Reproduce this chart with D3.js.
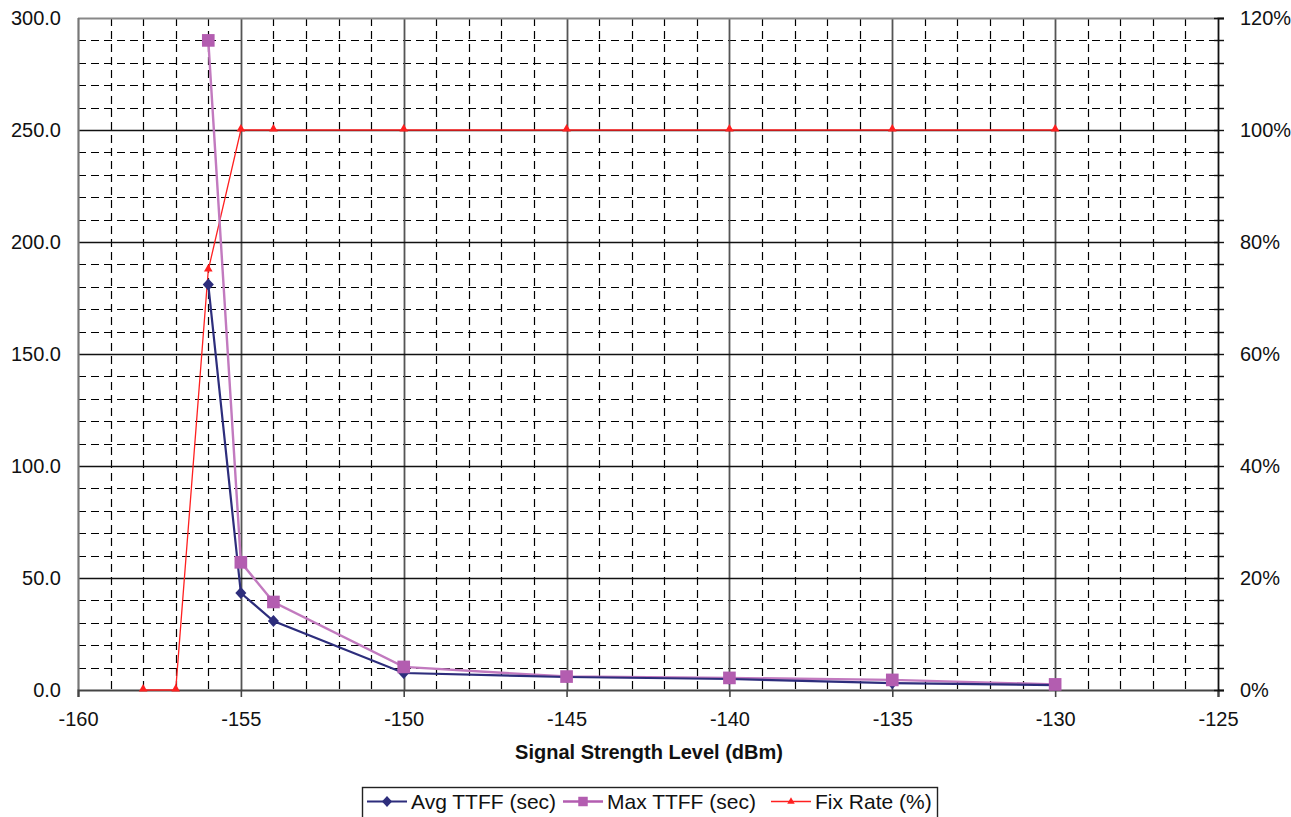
<!DOCTYPE html>
<html>
<head>
<meta charset="utf-8">
<script src="https://cdn.jsdelivr.net/npm/d3@7"></script>
<style>
  body { margin: 0; background: #fff; overflow: hidden; }
  svg { display: block; font-family: "Liberation Sans", Arial, sans-serif; }
</style>
</head>
<body>
<div id="chart"></div>
<script>
// signal level (dBm) for each measurement
var levels = [-158, -157, -156, -155, -154, -150, -145, -140, -135, -130];
// TTFF values (sec), null where no fix
var avgTTFF = [null, null, 181, 43.3, 30.8, 7.6, 5.8, 4.9, 3.1, 2.2];
var maxTTFF = [null, null, 290, 57, 39.3, 10.3, 6, 5.4, 4.5, 2.5];
// fix rate in percent
var fixRate = [0, 0, 75, 100, 100, 100, 100, 100, 100, 100];

var xTicks = [-160, -155, -150, -145, -140, -135, -130, -125];
var yTicks = [0, 50, 100, 150, 200, 250, 300];
var pctTicks = [0, 20, 40, 60, 80, 100, 120];
var seriesNames = ["Avg TTFF (sec)", "Max TTFF (sec)", "Fix Rate (%)"];

(function () {
    var W = 1291, H = 817;
    var pl = 78, pr = 1218, pt = 18, pb = 690;

    var svg = d3.select("#chart").append("svg").attr("width", W).attr("height", H);

    var x = d3.scaleLinear().domain([-160, -125]).range([pl, pr]);
    var y = d3.scaleLinear().domain([0, 300]).range([pb, pt]);
    var y2 = d3.scaleLinear().domain([0, 120]).range([pb, pt]);

    function px(v) { return Math.round(v) + 0.5; }

    // minor grid, dashed
    var minorX = d3.range(-159, -125, 1).filter(v => v % 5 !== 0);
    var minorY = d3.range(10, 300, 10).filter(v => v % 50 !== 0);

    var grid = svg.append("g");
    grid.selectAll(".mx").data(minorX).enter().append("line")
        .attr("x1", d => px(x(d))).attr("x2", d => px(x(d)))
        .attr("y1", pt).attr("y2", pb)
        .attr("stroke", "#000").attr("stroke-width", 1.2).attr("stroke-dasharray", "8,5");
    grid.selectAll(".my").data(minorY).enter().append("line")
        .attr("y1", d => px(y(d))).attr("y2", d => px(y(d)))
        .attr("x1", pl).attr("x2", pr)
        .attr("stroke", "#000").attr("stroke-width", 1.2).attr("stroke-dasharray", "8,5");

    // major grid, solid
    grid.selectAll(".Mx").data(xTicks.slice(1, -1)).enter().append("line")
        .attr("x1", d => px(x(d))).attr("x2", d => px(x(d)))
        .attr("y1", pt).attr("y2", pb)
        .attr("stroke", "#555").attr("stroke-width", 1.8);
    grid.selectAll(".My").data(yTicks.slice(1, -1)).enter().append("line")
        .attr("y1", d => px(y(d))).attr("y2", d => px(y(d)))
        .attr("x1", pl).attr("x2", pr)
        .attr("stroke", "#111").attr("stroke-width", 1.4);

    // frame
    svg.append("line").attr("x1", pl).attr("x2", pr).attr("y1", pt + 0.5).attr("y2", pt + 0.5)
        .attr("stroke", "#888").attr("stroke-width", 2);
    svg.append("line").attr("x1", pl + 0.5).attr("x2", pl + 0.5).attr("y1", pt).attr("y2", pb)
        .attr("stroke", "#777").attr("stroke-width", 2.2);

    // bottom axis
    var xAxis = d3.axisBottom(x).tickValues(xTicks).tickSize(7).tickPadding(15).tickFormat(d => String(d));
    var gx = svg.append("g").attr("transform", "translate(0," + pb + ")").call(xAxis);
    gx.select(".domain").attr("stroke", "#444").attr("stroke-width", 2.2);
    gx.selectAll(".tick line").attr("stroke", "#444").attr("stroke-width", 1.6);
    gx.selectAll("text").attr("font-size", 20).attr("fill", "#111").attr("font-family", "Liberation Sans, Arial");

    // left axis labels
    var yAxis = d3.axisLeft(y).tickValues(yTicks).tickSize(0).tickPadding(17).tickFormat(d3.format(".1f"));
    var gy = svg.append("g").attr("transform", "translate(" + pl + ",0)").call(yAxis);
    gy.select(".domain").remove();
    gy.selectAll("text").attr("font-size", 20).attr("fill", "#111").attr("font-family", "Liberation Sans, Arial");

    // right axis
    var rAxis = d3.axisRight(y2).tickValues(pctTicks).tickSize(6).tickPadding(16).tickFormat(d => d + "%");
    var gr = svg.append("g").attr("transform", "translate(" + pr + ",0)").call(rAxis);
    gr.select(".domain").attr("stroke", "#111").attr("stroke-width", 1.8);
    gr.selectAll(".tick line").attr("stroke", "#111").attr("x1", -4).attr("stroke-width", 1.4);
    gr.selectAll("text").attr("font-size", 20).attr("fill", "#111").attr("font-family", "Liberation Sans, Arial");
    gr.selectAll(".mt").data(d3.range(4, 120, 4).filter(v => v % 20 !== 0)).enter().append("line")
        .attr("x1", -4).attr("x2", 6)
        .attr("y1", d => px(y2(d))).attr("y2", d => px(y2(d)))
        .attr("stroke", "#111").attr("stroke-width", 1.4);

    // axis title
    svg.append("text").attr("x", (pl + pr) / 2 + 1).attr("y", 759)
        .attr("text-anchor", "middle").attr("font-weight", "bold").attr("font-size", 20)
        .attr("fill", "#111").text("Signal Strength Level (dBm)");

    // series
    var avgPts = levels.map((l, i) => [l, avgTTFF[i]]).filter(d => d[1] !== null);
    var maxPts = levels.map((l, i) => [l, maxTTFF[i]]).filter(d => d[1] !== null);
    var fixPts = levels.map((l, i) => [l, fixRate[i]]);

    var line1 = d3.line().x(d => x(d[0])).y(d => y(d[1]));
    var line2 = d3.line().x(d => x(d[0])).y(d => y2(d[1]));

    var colAvg = "#2d2d7c", colMax = "#b35db0", colMaxLine = "#c27abf", colFix = "#ff2020";

    // square rotated diamond, near equal width and height
    var diamondType = {
        draw: function (ctx, size) {
            var r = Math.sqrt(size) / 1.4;
            ctx.moveTo(0, -r * 1.1);
            ctx.lineTo(r, 0);
            ctx.lineTo(0, r * 1.1);
            ctx.lineTo(-r, 0);
            ctx.closePath();
        }
    };
    var diamond = d3.symbol().type(diamondType).size(60);
    var square = d3.symbol().type(d3.symbolSquare).size(160);
    var tri = d3.symbol().type(d3.symbolTriangle).size(32);

    svg.append("path").datum(fixPts).attr("d", line2).attr("fill", "none")
        .attr("stroke", colFix).attr("stroke-width", 1.3);
    svg.append("path").datum(maxPts).attr("d", line1).attr("fill", "none")
        .attr("stroke", colMaxLine).attr("stroke-width", 2.4);
    svg.append("path").datum(avgPts).attr("d", line1).attr("fill", "none")
        .attr("stroke", colAvg).attr("stroke-width", 2.2);

    svg.selectAll(".pAvg").data(avgPts).enter().append("path")
        .attr("d", diamond).attr("fill", colAvg)
        .attr("transform", d => "translate(" + x(d[0]) + "," + y(d[1]) + ")");
    svg.selectAll(".pMax").data(maxPts).enter().append("path")
        .attr("d", square).attr("fill", colMax)
        .attr("transform", d => "translate(" + x(d[0]) + "," + y(d[1]) + ")");
    svg.selectAll(".pFix").data(fixPts).enter().append("path")
        .attr("d", tri).attr("fill", colFix)
        .attr("transform", d => "translate(" + x(d[0]) + "," + (y2(d[1]) - 1) + ")");

    // legend
    var lg = svg.append("g");
    lg.append("rect").attr("x", 362.5).attr("y", 787.5).attr("width", 575).attr("height", 40)
        .attr("fill", "#fff").attr("stroke", "#222").attr("stroke-width", 1.4);
    var items = [
        { name: seriesNames[0], col: colAvg, sym: d3.symbol().type(diamondType).size(50), x0: 367, sw: 2.2 },
        { name: seriesNames[1], col: colMax, sym: d3.symbol().type(d3.symbolSquare).size(90), x0: 563, sw: 2.4 },
        { name: seriesNames[2], col: colFix, sym: d3.symbol().type(d3.symbolTriangle).size(24), x0: 771, sw: 1.3 }
    ];
    items.forEach(function (it) {
        var ly = 801.5;
        lg.append("line").attr("x1", it.x0).attr("x2", it.x0 + 40).attr("y1", ly).attr("y2", ly)
            .attr("stroke", it.col).attr("stroke-width", it.sw);
        lg.append("path").attr("d", it.sym).attr("fill", it.col)
            .attr("transform", "translate(" + (it.x0 + 20) + "," + ly + ")");
        lg.append("text").attr("x", it.x0 + 44).attr("y", ly + 7.5).attr("font-size", 21)
            .attr("fill", "#111").text(it.name);
    });
})();
</script>
</body>
</html>
